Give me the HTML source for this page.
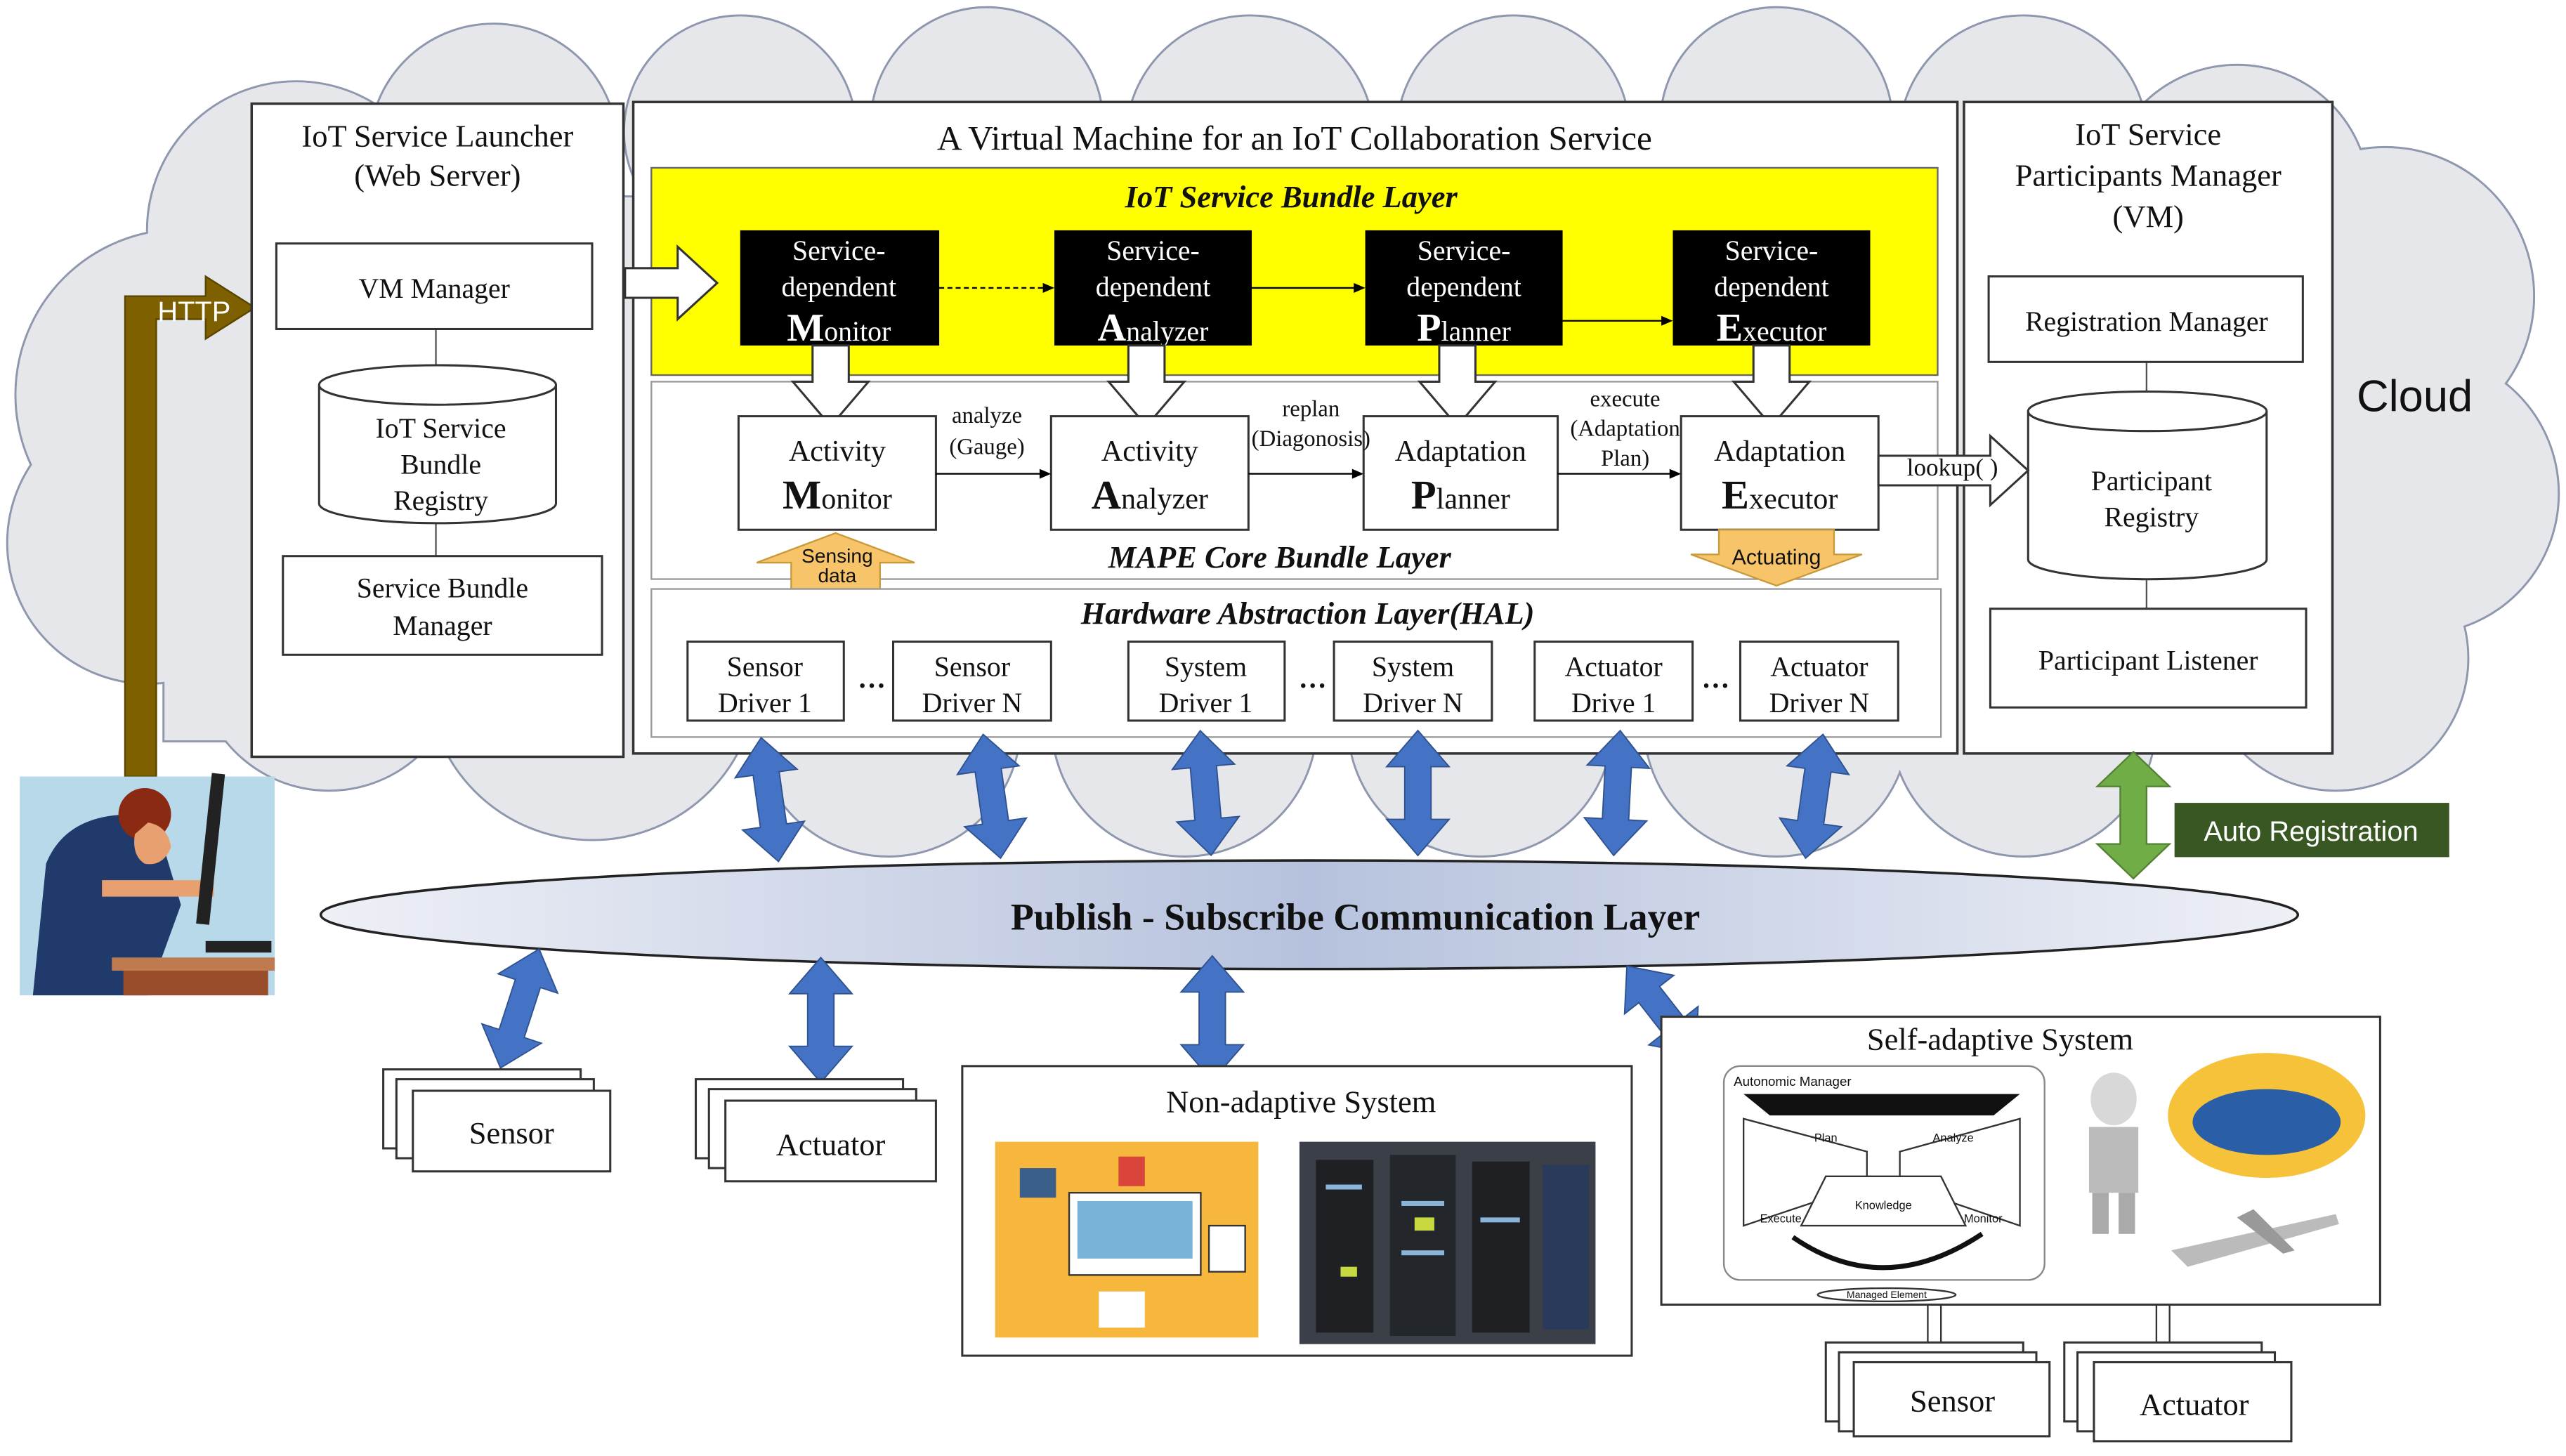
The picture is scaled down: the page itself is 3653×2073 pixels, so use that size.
<!DOCTYPE html>
<html><head><meta charset="utf-8"><style>
html,body{margin:0;padding:0;background:#fff;}
svg{display:block;}
text{font-family:"Liberation Serif",serif;fill:#111;}
.s{font-family:"Liberation Sans",sans-serif;}
</style></head><body>
<svg width="3653" height="2073" viewBox="0 0 1560 885" preserveAspectRatio="none" xmlns="http://www.w3.org/2000/svg">
<defs>
<linearGradient id="eg" x1="0" x2="1" y1="0" y2="0"><stop offset="0" stop-color="#eef0f6"/><stop offset="0.5" stop-color="#b6c2dd"/><stop offset="1" stop-color="#eef0f6"/></linearGradient>
<g id="cl">
<circle cx="110" cy="240" r="100"/><circle cx="90" cy="330" r="85"/><circle cx="180" cy="140" r="90"/>
<circle cx="300" cy="90" r="75"/><circle cx="450" cy="80" r="70"/><circle cx="600" cy="75" r="70"/>
<circle cx="760" cy="85" r="75"/><circle cx="920" cy="80" r="70"/><circle cx="1080" cy="75" r="70"/>
<circle cx="1230" cy="85" r="75"/><circle cx="1360" cy="120" r="80"/><circle cx="1450" cy="180" r="90"/>
<circle cx="1470" cy="300" r="85"/><circle cx="1420" cy="400" r="80"/><circle cx="1230" cy="440" r="80"/>
<circle cx="1080" cy="440" r="80"/><circle cx="900" cy="440" r="80"/><circle cx="720" cy="440" r="80"/>
<circle cx="540" cy="440" r="80"/><circle cx="360" cy="410" r="100"/><circle cx="200" cy="400" r="80"/>
<rect x="100" y="120" width="1380" height="330"/>
</g>
</defs>
<use href="#cl" fill="#e6e7eb" stroke="#8d97ad" stroke-width="2.5"/>
<use href="#cl" fill="#e6e7eb"/>
<text class="s" x="1468" y="250" font-size="27" text-anchor="middle">Cloud</text>

<path d="M76,472 L76,180 L125,180 L125,168 L155,187 L125,206 L125,194 L95,194 L95,472 Z" fill="#7f6000" stroke="#5a4500" stroke-width="1"/>
<text class="s" x="118" y="195" font-size="17" text-anchor="middle" style="fill:#fff">HTTP</text>

<rect x="153" y="63" width="226" height="397" fill="#fff" stroke="#333" stroke-width="1.5"/>
<text x="266" y="89" font-size="19" text-anchor="middle">IoT Service Launcher</text>
<text x="266" y="113" font-size="19" text-anchor="middle">(Web Server)</text>
<line x1="265" y1="200" x2="265" y2="340" stroke="#555"/>
<rect x="168" y="148" width="192" height="52" fill="#fff" stroke="#333" stroke-width="1.3"/>
<text x="264" y="181" font-size="17" text-anchor="middle">VM Manager</text>
<path d="M194,234 L194,306 A72,12 0 0 0 338,306 L338,234" fill="#fff" stroke="#333" stroke-width="1.3"/>
<ellipse cx="266" cy="234" rx="72" ry="12" fill="#fff" stroke="#333" stroke-width="1.3"/>
<text x="268" y="266" font-size="17" text-anchor="middle">IoT Service</text>
<text x="268" y="288" font-size="17" text-anchor="middle">Bundle</text>
<text x="268" y="310" font-size="17" text-anchor="middle">Registry</text>
<rect x="172" y="338" width="194" height="60" fill="#fff" stroke="#333" stroke-width="1.3"/>
<text x="269" y="363" font-size="17" text-anchor="middle">Service Bundle</text>
<text x="269" y="386" font-size="17" text-anchor="middle">Manager</text>

<rect x="385" y="62" width="805" height="396" fill="#fff" stroke="#333" stroke-width="1.5"/>
<text x="787" y="91" font-size="21" text-anchor="middle">A Virtual Machine for an IoT Collaboration Service</text>
<rect x="396" y="102" width="782" height="126" fill="#ffff00" stroke="#666" stroke-width="1"/>
<text x="785" y="126" font-size="19" font-weight="bold" font-style="italic" text-anchor="middle">IoT Service Bundle Layer</text>
<g font-size="17" text-anchor="middle">
<rect x="450" y="140" width="121" height="70" fill="#000"/>
<text x="510" y="158" style="fill:#fff">Service-</text><text x="510" y="180" style="fill:#fff">dependent</text><text x="510" y="207" style="fill:#fff"><tspan font-size="24" font-weight="bold" style="fill:#fff">M</tspan>onitor</text>
<rect x="641" y="140" width="120" height="70" fill="#000"/>
<text x="701" y="158" style="fill:#fff">Service-</text><text x="701" y="180" style="fill:#fff">dependent</text><text x="701" y="207" style="fill:#fff"><tspan font-size="24" font-weight="bold" style="fill:#fff">A</tspan>nalyzer</text>
<rect x="830" y="140" width="120" height="70" fill="#000"/>
<text x="890" y="158" style="fill:#fff">Service-</text><text x="890" y="180" style="fill:#fff">dependent</text><text x="890" y="207" style="fill:#fff"><tspan font-size="24" font-weight="bold" style="fill:#fff">P</tspan>lanner</text>
<rect x="1017" y="140" width="120" height="70" fill="#000"/>
<text x="1077" y="158" style="fill:#fff">Service-</text><text x="1077" y="180" style="fill:#fff">dependent</text><text x="1077" y="207" style="fill:#fff"><tspan font-size="24" font-weight="bold" style="fill:#fff">E</tspan>xecutor</text>
</g>
<line x1="571" y1="175" x2="636" y2="175" stroke="#000" stroke-dasharray="3,2"/><path d="M641,175 l-7,-3 v6z"/>
<line x1="761" y1="175" x2="825" y2="175" stroke="#000"/><path d="M830,175 l-7,-3 v6z"/>
<line x1="950" y1="195" x2="1012" y2="195" stroke="#000"/><path d="M1017,195 l-7,-3 v6z"/>
<path d="M380,163 L412,163 L412,150 L436,172 L412,194 L412,181 L380,181 Z" fill="#fff" stroke="#333" stroke-width="1.3"/>

<rect x="396" y="232" width="782" height="120" fill="#fff" stroke="#999" stroke-width="1"/>
<g fill="#fff" stroke="#333" stroke-width="1.3">
<path d="M494,210 h22 v22 h12 l-23,27 l-23,-27 h12z"/>
<path d="M686,210 h22 v22 h12 l-23,27 l-23,-27 h12z"/>
<path d="M875,210 h22 v22 h12 l-23,27 l-23,-27 h12z"/>
<path d="M1066,210 h22 v22 h12 l-23,27 l-23,-27 h12z"/>
</g>
<g font-size="18" text-anchor="middle">
<rect x="449" y="253" width="120" height="69" fill="#fff" stroke="#333" stroke-width="1.3"/>
<text x="509" y="280">Activity</text><text x="509" y="309"><tspan font-size="25" font-weight="bold">M</tspan>onitor</text>
<rect x="639" y="253" width="120" height="69" fill="#fff" stroke="#333" stroke-width="1.3"/>
<text x="699" y="280">Activity</text><text x="699" y="309"><tspan font-size="25" font-weight="bold">A</tspan>nalyzer</text>
<rect x="829" y="253" width="118" height="69" fill="#fff" stroke="#333" stroke-width="1.3"/>
<text x="888" y="280">Adaptation</text><text x="888" y="309"><tspan font-size="25" font-weight="bold">P</tspan>lanner</text>
<rect x="1022" y="253" width="120" height="69" fill="#fff" stroke="#333" stroke-width="1.3"/>
<text x="1082" y="280">Adaptation</text><text x="1082" y="309"><tspan font-size="25" font-weight="bold">E</tspan>xecutor</text>
</g>
<g font-size="14" text-anchor="middle">
<text x="600" y="257">analyze</text><text x="600" y="276">(Gauge)</text>
<text x="797" y="253">replan</text><text x="797" y="271">(Diagonosis)</text>
<text x="988" y="247">execute</text><text x="988" y="265">(Adaptation</text><text x="988" y="283">Plan)</text>
</g>
<line x1="569" y1="288" x2="634" y2="288" stroke="#000"/><path d="M639,288 l-7,-3 v6z"/>
<line x1="759" y1="288" x2="824" y2="288" stroke="#000"/><path d="M829,288 l-7,-3 v6z"/>
<line x1="947" y1="288" x2="1017" y2="288" stroke="#000"/><path d="M1022,288 l-7,-3 v6z"/>
<text x="778" y="345" font-size="19" font-weight="bold" font-style="italic" text-anchor="middle">MAPE Core Bundle Layer</text>
<path d="M508,324 L556,342 L535,342 L535,358 L481,358 L481,342 L460,342 Z" fill="#f7c46a" stroke="#c89a3a"/>
<text class="s" x="509" y="342" font-size="12" text-anchor="middle">Sensing</text><text class="s" x="509" y="354" font-size="12" text-anchor="middle">data</text>
<path d="M1045,322 L1115,322 L1115,337 L1132,337 L1080,356 L1028,337 L1045,337 Z" fill="#f7c46a" stroke="#c89a3a"/>
<text class="s" x="1080" y="343" font-size="13" text-anchor="middle">Actuating</text>

<rect x="396" y="358" width="784" height="90" fill="#fff" stroke="#999" stroke-width="1"/>
<text x="795" y="379" font-size="19" font-weight="bold" font-style="italic" text-anchor="middle">Hardware Abstraction Layer(HAL)</text>
<g font-size="17" text-anchor="middle">
<rect x="418" y="390" width="95" height="48" fill="#fff" stroke="#333" stroke-width="1.3"/><text x="465" y="411">Sensor</text><text x="465" y="433">Driver 1</text>
<rect x="543" y="390" width="96" height="48" fill="#fff" stroke="#333" stroke-width="1.3"/><text x="591" y="411">Sensor</text><text x="591" y="433">Driver N</text>
<rect x="686" y="390" width="95" height="48" fill="#fff" stroke="#333" stroke-width="1.3"/><text x="733" y="411">System</text><text x="733" y="433">Driver 1</text>
<rect x="811" y="390" width="96" height="48" fill="#fff" stroke="#333" stroke-width="1.3"/><text x="859" y="411">System</text><text x="859" y="433">Driver N</text>
<rect x="933" y="390" width="96" height="48" fill="#fff" stroke="#333" stroke-width="1.3"/><text x="981" y="411">Actuator</text><text x="981" y="433">Drive 1</text>
<rect x="1058" y="390" width="96" height="48" fill="#fff" stroke="#333" stroke-width="1.3"/><text x="1106" y="411">Actuator</text><text x="1106" y="433">Driver N</text>
<text x="530" y="418" font-weight="bold">…</text><text x="798" y="418" font-weight="bold">…</text><text x="1043" y="418" font-weight="bold">…</text>
</g>

<rect x="1194" y="62" width="224" height="396" fill="#fff" stroke="#333" stroke-width="1.5"/>
<text x="1306" y="88" font-size="19" text-anchor="middle">IoT Service</text>
<text x="1306" y="113" font-size="19" text-anchor="middle">Participants Manager</text>
<text x="1306" y="138" font-size="19" text-anchor="middle">(VM)</text>
<line x1="1305" y1="220" x2="1305" y2="372" stroke="#555"/>
<rect x="1209" y="168" width="191" height="52" fill="#fff" stroke="#333" stroke-width="1.3"/>
<text x="1305" y="201" font-size="17" text-anchor="middle">Registration Manager</text>
<path d="M1233,250 L1233,340 A72,12 0 0 0 1378,340 L1378,250" fill="#fff" stroke="#333" stroke-width="1.3"/>
<ellipse cx="1305.5" cy="250" rx="72.5" ry="12" fill="#fff" stroke="#333" stroke-width="1.3"/>
<text x="1308" y="298" font-size="17" text-anchor="middle">Participant</text>
<text x="1308" y="320" font-size="17" text-anchor="middle">Registry</text>
<rect x="1210" y="370" width="192" height="60" fill="#fff" stroke="#333" stroke-width="1.3"/>
<text x="1306" y="407" font-size="17" text-anchor="middle">Participant Listener</text>

<path d="M1142,277 L1210,277 L1210,265 L1233,286 L1210,307 L1210,295 L1142,295 Z" fill="#fff" stroke="#333" stroke-width="1.3"/>
<text x="1187" y="289" font-size="15" text-anchor="middle">lookup( )</text>

<path d="M1297,457 L1319,478 L1305,478 L1305,513 L1319,513 L1297,534 L1275,513 L1289,513 L1289,478 L1275,478 Z" fill="#70ad47" stroke="#548235"/>
<rect x="1322" y="488" width="167" height="33" fill="#385723"/>
<text class="s" x="1405" y="511" font-size="17" text-anchor="middle" style="fill:#fff">Auto Registration</text>

<g fill="#4472c4" stroke="#2f528f" stroke-width="0.8">
<path d="M0,-38 L19,-16 L8,-16 L8,16 L19,16 L0,38 L-19,16 L-8,16 L-8,-16 L-19,-16 Z" transform="translate(468,486) rotate(-8)"/>
<path d="M0,-38 L19,-16 L8,-16 L8,16 L19,16 L0,38 L-19,16 L-8,16 L-8,-16 L-19,-16 Z" transform="translate(603,484) rotate(-8)"/>
<path d="M0,-38 L19,-16 L8,-16 L8,16 L19,16 L0,38 L-19,16 L-8,16 L-8,-16 L-19,-16 Z" transform="translate(733,482) rotate(-5)"/>
<path d="M0,-38 L19,-16 L8,-16 L8,16 L19,16 L0,38 L-19,16 L-8,16 L-8,-16 L-19,-16 Z" transform="translate(862,482)"/>
<path d="M0,-38 L19,-16 L8,-16 L8,16 L19,16 L0,38 L-19,16 L-8,16 L-8,-16 L-19,-16 Z" transform="translate(983,482) rotate(3)"/>
<path d="M0,-38 L19,-16 L8,-16 L8,16 L19,16 L0,38 L-19,16 L-8,16 L-8,-16 L-19,-16 Z" transform="translate(1103,484) rotate(8)"/>
</g>

<rect x="12" y="472" width="155" height="133" fill="#b7d9ea"/>
<path d="M20,605 L28,525 Q40,495 80,495 L95,500 L110,550 L90,605 Z" fill="#1f3a6b"/>
<circle cx="88" cy="495" r="16" fill="#8b2a12"/>
<path d="M90,500 q12,2 14,15 q-5,12 -16,10 q-8,-5 -6,-18z" fill="#e8a070"/>
<path d="M62,535 L130,535 L130,545 L62,545Z" fill="#e8a070"/>
<rect x="124" y="470" width="8" height="92" fill="#222" transform="rotate(6 128 516)"/>
<rect x="125" y="572" width="40" height="7" fill="#222"/>
<rect x="68" y="582" width="99" height="8" fill="#c07a50"/>
<rect x="75" y="590" width="88" height="15" fill="#9a4d2a"/>

<ellipse cx="796" cy="556" rx="601" ry="33" fill="url(#eg)" stroke="#222" stroke-width="1.5"/>
<text x="824" y="565" font-size="23" font-weight="bold" text-anchor="middle">Publish - Subscribe Communication Layer</text>

<g fill="#4472c4" stroke="#2f528f" stroke-width="0.8">
<path d="M0,-38 L19,-16 L8,-16 L8,16 L19,16 L0,38 L-19,16 L-8,16 L-8,-16 L-19,-16 Z" transform="translate(316,613) rotate(18)"/>
<path d="M0,-38 L19,-16 L8,-16 L8,16 L19,16 L0,38 L-19,16 L-8,16 L-8,-16 L-19,-16 Z" transform="translate(499,620)"/>
<path d="M0,-38 L19,-16 L8,-16 L8,16 L19,16 L0,38 L-19,16 L-8,16 L-8,-16 L-19,-16 Z" transform="translate(737,619)"/>
<path d="M0,-34 L19,-12 L8,-12 L8,12 L19,12 L0,34 L-19,12 L-8,12 L-8,-12 L-19,-12 Z" transform="translate(1010,614) rotate(-38)"/>
</g>

<g fill="#fff" stroke="#333" stroke-width="1.3">
<rect x="233" y="650" width="120" height="48"/><rect x="241" y="656" width="120" height="48"/><rect x="251" y="663" width="120" height="49"/>
<rect x="423" y="656" width="126" height="48"/><rect x="431" y="662" width="126" height="48"/><rect x="441" y="669" width="128" height="49"/>
</g>
<text x="311" y="695" font-size="19" text-anchor="middle">Sensor</text>
<text x="505" y="702" font-size="19" text-anchor="middle">Actuator</text>

<rect x="585" y="648" width="407" height="176" fill="#fff" stroke="#333" stroke-width="1.3"/>
<text x="791" y="676" font-size="19" text-anchor="middle">Non-adaptive System</text>
<rect x="605" y="694" width="160" height="119" fill="#f6b73c"/>
<rect x="650" y="725" width="80" height="50" fill="#fff" stroke="#333"/><rect x="655" y="730" width="70" height="35" fill="#7ab3d8"/>
<rect x="620" y="710" width="22" height="18" fill="#3a5f8a"/><rect x="680" y="703" width="16" height="18" fill="#d9453b"/>
<rect x="735" y="745" width="22" height="28" fill="#fff" stroke="#333"/><rect x="668" y="785" width="28" height="22" fill="#fff"/>
<rect x="790" y="694" width="180" height="123" fill="#3b3f47"/>
<rect x="800" y="705" width="35" height="105" fill="#1e2024"/><rect x="845" y="702" width="40" height="110" fill="#23262b"/><rect x="895" y="706" width="35" height="104" fill="#1e2024"/><rect x="938" y="708" width="28" height="100" fill="#2a3a5a"/>
<g fill="#8ab4d8"><rect x="806" y="720" width="22" height="3"/><rect x="852" y="730" width="26" height="3"/><rect x="900" y="740" width="24" height="3"/><rect x="852" y="760" width="26" height="3"/></g>
<g fill="#c8d840"><rect x="860" y="740" width="12" height="8"/><rect x="815" y="770" width="10" height="6"/></g>

<line x1="1172" y1="793" x2="1172" y2="820" stroke="#333"/><line x1="1180" y1="793" x2="1180" y2="820" stroke="#333"/>
<line x1="1311" y1="793" x2="1311" y2="820" stroke="#333"/><line x1="1319" y1="793" x2="1319" y2="820" stroke="#333"/>
<rect x="1010" y="618" width="437" height="175" fill="#fff" stroke="#333" stroke-width="1.3"/>
<text x="1216" y="638" font-size="19" text-anchor="middle">Self-adaptive System</text>
<rect x="1048" y="648" width="195" height="130" rx="10" fill="#fff" stroke="#888"/>
<text class="s" x="1054" y="660" font-size="8">Autonomic Manager</text>
<path d="M1060,665 L1228,665 L1212,678 L1076,678Z" fill="#111"/>
<path d="M1060,680 L1135,700 L1135,720 L1060,745Z" fill="#fff" stroke="#333"/>
<path d="M1228,680 L1155,700 L1155,720 L1228,745Z" fill="#fff" stroke="#333"/>
<path d="M1110,715 L1180,715 L1195,745 L1095,745Z" fill="#fff" stroke="#333"/>
<text class="s" x="1103" y="694" font-size="7">Plan</text><text class="s" x="1175" y="694" font-size="7">Analyze</text>
<text class="s" x="1145" y="735" font-size="7" text-anchor="middle">Knowledge</text>
<text class="s" x="1070" y="743" font-size="7">Execute</text><text class="s" x="1194" y="743" font-size="7">Monitor</text>
<path d="M1090,752 Q1145,790 1205,750" fill="none" stroke="#111" stroke-width="3"/>
<ellipse cx="1147" cy="787" rx="42" ry="4" fill="#fff" stroke="#333"/>
<text class="s" x="1147" y="789" font-size="6" text-anchor="middle">Managed Element</text>
<ellipse cx="1285" cy="668" rx="14" ry="16" fill="#d8d8d8"/><rect x="1270" y="685" width="30" height="40" fill="#bbb"/><rect x="1272" y="725" width="10" height="25" fill="#aaa"/><rect x="1288" y="725" width="10" height="25" fill="#aaa"/>
<ellipse cx="1378" cy="678" rx="60" ry="38" fill="#f5c23a"/>
<ellipse cx="1378" cy="682" rx="45" ry="20" fill="#2a5fa8"/>
<path d="M1320,760 L1420,738 L1422,744 L1330,770Z" fill="#bbb"/><path d="M1370,735 L1395,760 L1388,762 L1360,740Z" fill="#999"/>

<g fill="#fff" stroke="#333" stroke-width="1.3">
<rect x="1110" y="816" width="120" height="48"/><rect x="1118" y="822" width="120" height="48"/><rect x="1127" y="828" width="119" height="45"/>
<rect x="1255" y="816" width="120" height="48"/><rect x="1263" y="822" width="120" height="48"/><rect x="1273" y="828" width="120" height="48"/>
</g>
<text x="1187" y="858" font-size="19" text-anchor="middle">Sensor</text>
<text x="1334" y="860" font-size="19" text-anchor="middle">Actuator</text>
</svg>
</body></html>
